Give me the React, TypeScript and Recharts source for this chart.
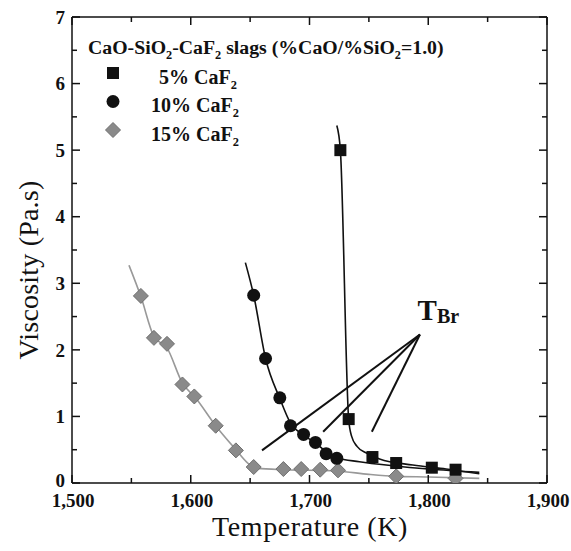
import React from 'react';
import {
  ComposedChart,
  Line,
  Scatter,
  XAxis,
  YAxis,
  ReferenceLine,
  ReferenceDot,
  Legend,
} from 'recharts';

// measured points
const temps5 = [1726, 1733, 1753, 1773, 1803, 1823];
const visc5 = [5.0, 0.96, 0.39, 0.3, 0.23, 0.2];
const temps10 = [1653, 1663, 1675, 1684, 1695, 1705, 1714, 1723];
const visc10 = [2.82, 1.87, 1.28, 0.86, 0.73, 0.61, 0.44, 0.37];
const temps15 = [1558, 1569, 1580, 1593, 1603, 1621, 1638, 1653, 1678, 1693, 1709, 1724, 1773, 1823];
const visc15 = [2.81, 2.18, 2.09, 1.48, 1.3, 0.86, 0.49, 0.24, 0.21, 0.21, 0.2, 0.19, 0.1, 0.07];

// fitted curves
const fitT5 = [1723, 1726, 1733, 1735.5, 1740, 1748, 1759, 1787, 1815, 1843];
const fitV5 = [5.37, 5.0, 0.95, 0.7, 0.55, 0.45, 0.36, 0.27, 0.21, 0.14];
const fitT10 = [1646, 1653, 1663, 1675, 1684, 1695, 1705, 1714, 1723, 1742, 1770, 1800, 1843];
const fitV10 = [3.31, 2.82, 1.87, 1.27, 0.9, 0.72, 0.6, 0.47, 0.38, 0.32, 0.26, 0.21, 0.16];
const fitT15 = [1548, 1558, 1569, 1580, 1593, 1604, 1621, 1638, 1648, 1656, 1680, 1723, 1750, 1773, 1800, 1843];
const fitV15 = [3.27, 2.8, 2.2, 2.03, 1.5, 1.28, 0.86, 0.5, 0.3, 0.22, 0.2, 0.18, 0.13, 0.1, 0.09, 0.07];

// annotation (T_Br) pointer lines
const apex = { T: 1793, v: 2.23 };
const pointerEndsT = [1660, 1711.5, 1752.5];
const pointerEndsV = [0.49, 0.77, 0.77];
const labelPos = { T: 1791, v: 2.45 };

// axes
const xTicks = [1500, 1550, 1600, 1650, 1700, 1750, 1800, 1850, 1900];
const yTicks = [0, 0.5, 1, 1.5, 2, 2.5, 3, 3.5, 4, 4.5, 5, 5.5, 6, 6.5, 7];

const zip = (ts: number[], vs: number[]) => ts.map((T, i) => ({ T, v: vs[i] }));
const data5 = zip(temps5, visc5);
const data10 = zip(temps10, visc10);
const data15 = zip(temps15, visc15);
const fit5 = zip(fitT5, fitV5);
const fit10 = zip(fitT10, fitV10);
const fit15 = zip(fitT15, fitV15);

const FONT = '"Liberation Serif", "Times New Roman", serif';
const INK = '#111';
const GRAY = '#8a8a8a';

const fmtX = (v: number) => v.toLocaleString('en-US');

const X_MARGIN = 11;

const BottomTick = (p: any) => {
  const { x, y, payload } = p;
  const major = payload.value % 100 === 0;
  const ay = y - X_MARGIN;
  return (
    <g>
      <line x1={x} x2={x} y1={ay} y2={ay - (major ? 8 : 5)} stroke={INK} strokeWidth={1.5} />
      {major && (
        <text x={x + 1} y={y} dy="0.68em" textAnchor="middle" fontFamily={FONT} fontWeight="bold" fontSize={19} fill={INK}>
          {fmtX(payload.value)}
        </text>
      )}
    </g>
  );
};

const TopTick = (p: any) => {
  const { x, y, payload } = p;
  const major = payload.value % 100 === 0;
  const ay = y + X_MARGIN;
  return <line x1={x} x2={x} y1={ay} y2={ay + (major ? 8 : 5)} stroke={INK} strokeWidth={1.5} />;
};

const LeftTick = (p: any) => {
  const { x, y, payload } = p;
  const major = payload.value % 1 === 0;
  const ax = x + 8;
  return (
    <g>
      <line x1={ax} x2={ax + (major ? 8 : 5)} y1={y} y2={y} stroke={INK} strokeWidth={1.5} />
      {major && (
        <text
          x={x + 1}
          y={payload.value === 0 ? y - 3 : y}
          dy="0.355em"
          textAnchor="end"
          fontFamily={FONT}
          fontWeight="bold"
          fontSize={19}
          fill={INK}
        >
          {payload.value}
        </text>
      )}
    </g>
  );
};

const RightTick = (p: any) => {
  const { x, y, payload } = p;
  const major = payload.value % 1 === 0;
  const ax = x - 8;
  return <line x1={ax} x2={ax - (major ? 8 : 5)} y1={y} y2={y} stroke={INK} strokeWidth={1.5} />;
};

const SquareShape = (p: any) => (
  <rect x={p.cx - 6} y={p.cy - 6} width={12} height={12} fill={INK} />
);
const CircleShape = (p: any) => <circle cx={p.cx} cy={p.cy} r={6.5} fill={INK} />;
const DiamondShape = (p: any) => (
  <polygon
    points={`${p.cx},${p.cy - 7.5} ${p.cx + 7.5},${p.cy} ${p.cx},${p.cy + 7.5} ${p.cx - 7.5},${p.cy}`}
    fill={GRAY}
    stroke="#6f6f6f"
    strokeWidth={1}
  />
);

const TbrLabel = (p: any) => (
  <text x={p.cx} y={p.cy} fontFamily={FONT} fontWeight="bold" fill={INK}>
    <tspan fontSize={29}>T</tspan>
    <tspan fontSize={20} dy={3}>Br</tspan>
  </text>
);

const Sub = ({ children }: { children: React.ReactNode }) => (
  <span style={{ fontSize: '0.62em', position: 'relative', top: '0.38em' }}>{children}</span>
);

const LegendBox = () => {
  const txt: React.CSSProperties = {
    position: 'absolute',
    fontFamily: FONT,
    fontWeight: 'bold',
    fontSize: 20,
    lineHeight: '20px',
    color: INK,
    whiteSpace: 'nowrap',
  };
  return (
    <div style={{ position: 'relative', width: 571, height: 150 }}>
      <div style={{ ...txt, left: 88, top: 37, fontSize: 19.8 }}>
        CaO-SiO<Sub>2</Sub>-CaF<Sub>2</Sub> slags (%CaO/%SiO<Sub>2</Sub>=1.0)
      </div>
      <svg style={{ position: 'absolute', left: 0, top: 0 }} width={200} height={150}>
        <rect x={107} y={67} width={12} height={12} fill={INK} />
        <circle cx={113} cy={101.5} r={6.5} fill={INK} />
        <polygon points="113,122.5 120.5,130 113,137.5 105.5,130" fill={GRAY} stroke="#6f6f6f" strokeWidth={1} />
      </svg>
      <div style={{ ...txt, left: 159, top: 67 }}>
        5% CaF<Sub>2</Sub>
      </div>
      <div style={{ ...txt, left: 151, top: 95 }}>
        10% CaF<Sub>2</Sub>
      </div>
      <div style={{ ...txt, left: 151, top: 124 }}>
        15% CaF<Sub>2</Sub>
      </div>
    </div>
  );
};

const axisLineStyle = { stroke: INK, strokeWidth: 1.5 };

export default function App() {
  return (
    <div style={{ position: 'absolute', left: 0, top: 0, width: 571, height: 551, background: '#fff' }}>
      <ComposedChart width={571} height={551} margin={{ top: 16, right: 23, bottom: 67, left: 71 }}>
        <XAxis
          xAxisId="bottom"
          dataKey="T"
          type="number"
          domain={[1500, 1900]}
          ticks={xTicks}
          interval={0}
          height={1}
          tickSize={0}
          tickMargin={X_MARGIN}
          tickLine={false}
          tick={BottomTick}
          axisLine={axisLineStyle}
          allowDataOverflow
        />
        <XAxis
          xAxisId="top"
          orientation="top"
          dataKey="T"
          type="number"
          domain={[1500, 1900]}
          ticks={xTicks}
          interval={0}
          height={1}
          tickSize={0}
          tickMargin={X_MARGIN}
          tickLine={false}
          tick={TopTick}
          axisLine={axisLineStyle}
          allowDataOverflow
        />
        <YAxis
          yAxisId="left"
          type="number"
          domain={[0, 7]}
          ticks={yTicks}
          interval={0}
          width={1}
          tickSize={0}
          tickMargin={8}
          tickLine={false}
          tick={LeftTick}
          axisLine={axisLineStyle}
          allowDataOverflow
        />
        <YAxis
          yAxisId="right"
          orientation="right"
          type="number"
          domain={[0, 7]}
          ticks={yTicks}
          interval={0}
          width={1}
          tickSize={0}
          tickMargin={8}
          tickLine={false}
          tick={RightTick}
          axisLine={axisLineStyle}
          allowDataOverflow
        />

        <Line xAxisId="bottom" yAxisId="left" data={fit15} dataKey="v" type="monotone" stroke="#999" strokeWidth={1.6} dot={false} isAnimationActive={false} />
        <Line xAxisId="bottom" yAxisId="left" data={fit10} dataKey="v" type="monotone" stroke={INK} strokeWidth={1.6} dot={false} isAnimationActive={false} />
        <Line xAxisId="bottom" yAxisId="left" data={fit5} dataKey="v" type="monotone" stroke={INK} strokeWidth={1.6} dot={false} isAnimationActive={false} />

        <Scatter xAxisId="bottom" yAxisId="left" data={data15} dataKey="v" shape={DiamondShape} isAnimationActive={false} />
        <Scatter xAxisId="bottom" yAxisId="left" data={data10} dataKey="v" shape={CircleShape} isAnimationActive={false} />
        <Scatter xAxisId="bottom" yAxisId="left" data={data5} dataKey="v" shape={SquareShape} isAnimationActive={false} />

        {pointerEndsT.map((T, i) => (
          <ReferenceLine
            key={i}
            xAxisId="bottom"
            yAxisId="left"
            segment={[
              { x: apex.T, y: apex.v },
              { x: T, y: pointerEndsV[i] },
            ]}
            stroke={INK}
            strokeWidth={2}
          />
        ))}
        <ReferenceDot xAxisId="bottom" yAxisId="left" x={labelPos.T} y={labelPos.v} r={0} shape={TbrLabel} />

        <Legend
          layout="horizontal"
          verticalAlign="middle"
          align="center"
          content={LegendBox}
          wrapperStyle={{ position: 'absolute', left: 0, top: 0, width: 571, height: 150 }}
        />
      </ComposedChart>
      <div
        style={{
          position: 'absolute',
          left: 0,
          top: 511,
          width: 620,
          textAlign: 'center',
          fontFamily: FONT,
          fontSize: 28,
          letterSpacing: 0.6,
          lineHeight: '32px',
          color: INK,
        }}
      >
        Temperature (K)
      </div>
      <div
        style={{
          position: 'absolute',
          left: 29,
          top: 270,
          transform: 'translate(-50%, -50%) rotate(-90deg)',
          fontFamily: FONT,
          fontSize: 28,
          letterSpacing: 0.2,
          lineHeight: '32px',
          color: INK,
          whiteSpace: 'nowrap',
        }}
      >
        Viscosity (Pa.s)
      </div>
    </div>
  );
}
